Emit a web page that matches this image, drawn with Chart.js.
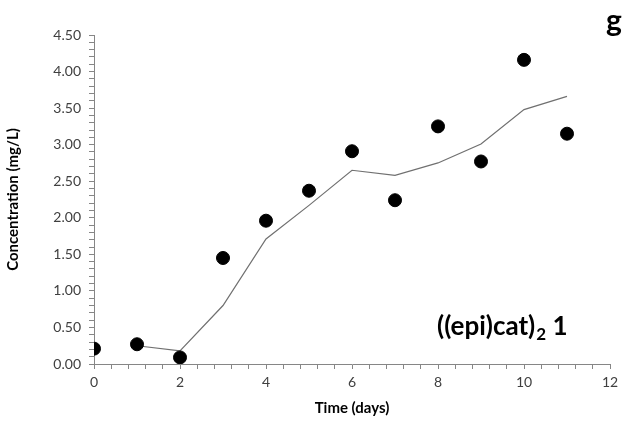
<!DOCTYPE html>
<html>
<head>
<meta charset="utf-8">
<script src="https://cdn.jsdelivr.net/npm/chart.js@4.4.1/dist/chart.umd.min.js"></script>
<style>
  html, body { margin: 0; padding: 0; background: #fff; }
  #wrap { position: relative; width: 625px; height: 421px; }
</style>
</head>
<body>
<div id="wrap"><canvas id="chart" width="625" height="421"></canvas></div>
<script>
// measured points (days 0..11)
const days = [0, 1, 2, 3, 4, 5, 6, 7, 8, 9, 10, 11];
const measured = [0.21, 0.27, 0.09, 1.45, 1.96, 2.37, 2.91, 2.24, 3.25, 2.77, 4.16, 3.15];

// model line (days 1..11)
const modelDays = [1, 2, 3, 4, 5, 6, 7, 8, 9, 10, 11];
const model = [0.25, 0.18, 0.80, 1.71, 2.17, 2.65, 2.58, 2.75, 3.01, 3.48, 3.66];

const panelLetter = "g";
const compoundLabel = "((epi)cat)";
const compoundSub = "2";
const compoundSuffix = " 1";

const FONT = "Lato, 'Open Sans', sans-serif";
const axisGray = '#868686';

const labelPlugin = {
    id: 'labels',
    afterDraw(chart) {
        const ctx = chart.ctx;
        ctx.save();
        ctx.fillStyle = '#000';
        ctx.textBaseline = 'alphabetic';
        // panel letter
        ctx.font = "bold 30px " + FONT;
        ctx.textAlign = 'center';
        ctx.fillText(panelLetter, 614, 31);
        // compound label
        ctx.textAlign = 'left';
        let x = 437, y = 335;
        ctx.font = "bold 26px " + FONT;
        ctx.fillText(compoundLabel, x, y);
        x += ctx.measureText(compoundLabel).width;
        ctx.font = "bold 17px " + FONT;
        ctx.fillText(compoundSub, x + 1, y + 5);
        x += ctx.measureText(compoundSub).width + 1;
        ctx.font = "bold 26px " + FONT;
        ctx.fillText(compoundSuffix, x, y);
        ctx.restore();
    }
};

new Chart(document.getElementById('chart').getContext('2d'), {
    type: 'scatter',
    data: {
        datasets: [{
            label: 'Model',
            type: 'line',
            data: modelDays.map((d, i) => ({ x: d, y: model[i] })),
            borderColor: '#707070',
            borderWidth: 1.2,
            pointRadius: 0,
            fill: false,
            tension: 0,
            order: 2
        }, {
            label: 'Measured',
            data: days.map((d, i) => ({ x: d, y: measured[i] })),
            backgroundColor: '#000',
            borderColor: '#000',
            pointRadius: 6.5,
            pointHoverRadius: 6.5,
            order: 1
        }]
    },
    options: {
        responsive: false,
        animation: false,
        layout: { padding: { top: 35, right: 15, left: 0, bottom: 0 } },
        plugins: {
            legend: { display: false },
            tooltip: { enabled: false }
        },
        scales: {
            x: {
                type: 'linear',
                min: 0,
                max: 12,
                afterFit: s => { s.height = 57; },
                border: { color: axisGray, width: 1 },
                grid: { drawOnChartArea: false, color: axisGray, tickLength: 5 },
                ticks: {
                    stepSize: 0.4,
                    autoSkip: false,
                    maxRotation: 0,
                    padding: 5,
                    color: '#404040',
                    font: { family: FONT, size: 14 },
                    callback: v => {
                        const r = Math.round(v);
                        return (Math.abs(v - r) < 1e-6 && r % 2 === 0) ? String(r) : '';
                    }
                },
                title: {
                    display: true,
                    text: 'Time (days)',
                    color: '#000',
                    font: { family: FONT, size: 15, weight: 'bold' },
                    padding: { top: 2 }
                }
            },
            y: {
                min: 0,
                max: 4.5,
                afterFit: s => { s.width = 94; },
                border: { color: axisGray, width: 1 },
                grid: { drawOnChartArea: false, color: axisGray, tickLength: 5 },
                ticks: {
                    stepSize: 0.1,
                    autoSkip: false,
                    padding: 8,
                    color: '#404040',
                    font: { family: FONT, size: 14 },
                    callback: v => {
                        const k = Math.round(v * 10);
                        return (Math.abs(v * 10 - k) < 1e-6 && k % 5 === 0) ? (k / 10).toFixed(2) : '';
                    }
                },
                title: {
                    display: true,
                    text: 'Concentration (mg/L)',
                    color: '#000',
                    font: { family: FONT, size: 15, weight: 'bold' },
                    padding: { bottom: 2 }
                }
            }
        }
    },
    plugins: [labelPlugin]
});
</script>
</body>
</html>
